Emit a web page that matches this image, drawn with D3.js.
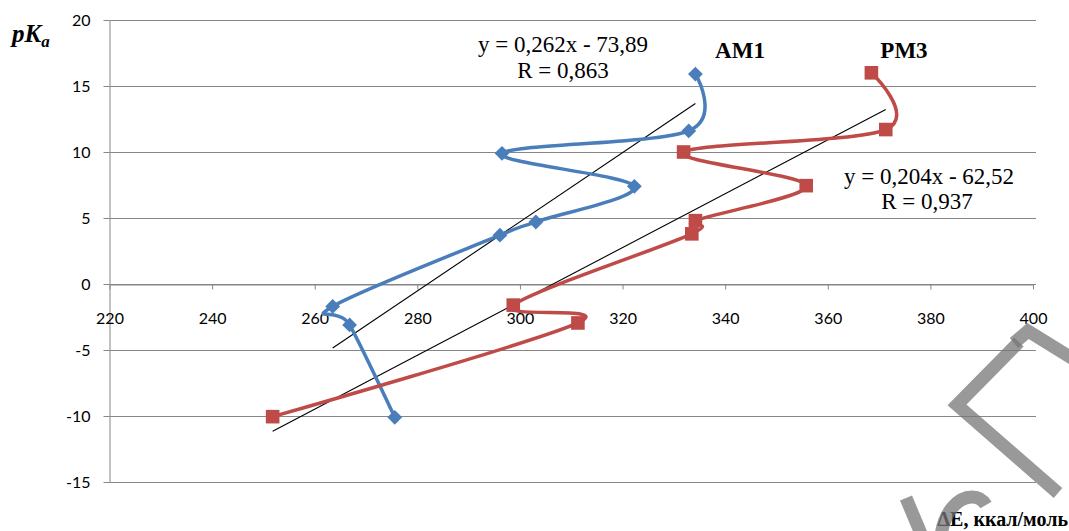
<!DOCTYPE html>
<html>
<head>
<meta charset="utf-8">
<script src="https://cdn.jsdelivr.net/npm/d3@7"></script>
<style>
  body { margin: 0; background: #fff; }
  svg { display: block; }
</style>
</head>
<body>
<svg id="chart" width="1069" height="531"></svg>
<script>
// pKa vs deltaE, two methods with linear trendlines

var dEAM1 = [334.2, 332.9, 296.5, 322.3, 303.1, 296.1, 263.5, 266.8, 275.6];
var pkaAM1 = [15.9, 11.6, 9.9, 7.4, 4.7, 3.7, -1.7, -3.1, -10.1];
var dEPM3 = [368.5, 371.3, 331.9, 355.8, 334.2, 333.5, 298.7, 311.3, 251.8];
var pkaPM3 = [16.0, 11.7, 10.0, 7.45, 4.8, 3.8, -1.6, -2.95, -10.05];
var trendAM1 = [0.262, -73.89];
var trendPM3 = [0.204, -62.52];
var xTicks = [220, 240, 260, 280, 300, 320, 340, 360, 380, 400];
var yTicks = [-15, -10, -5, 0, 5, 10, 15, 20];

var svg = d3.select('#chart');
var plotLeft = 109.5, plotRight = 1033, plotTop = 20, plotBottom = 482;
var axisColor = '#868686';
var tickFont = 'Lato, "Open Sans", sans-serif';

var x = d3.scaleLinear().domain([220, 400]).range([plotLeft, plotRight]);
var y = d3.scaleLinear().domain([-15, 20]).range([plotBottom, plotTop]);

// plain hyphen minus like the original
function fmt(d) { return String(d); }

// horizontal gridlines
svg.append('g').selectAll('line')
    .data(yTicks)
    .enter()
  .append('line')
    .attr('x1', plotLeft)
    .attr('x2', plotRight + 3)
    .attr('y1', function (d) { return Math.round(y(d)) + 0.5; })
    .attr('y2', function (d) { return Math.round(y(d)) + 0.5; })
    .style('stroke', axisColor)
    .style('stroke-width', 1);

// y axis
var yAxis = svg.append('g')
    .attr('transform', 'translate(' + plotLeft + ',0)')
    .call(d3.axisLeft(y).tickValues(yTicks).tickFormat(fmt).tickSize(6).tickPadding(13).tickSizeOuter(0));
yAxis.select('.domain').style('stroke', axisColor);
yAxis.selectAll('.tick line').style('stroke', axisColor);
yAxis.selectAll('.tick text')
    .attr('font-family', tickFont)
    .attr('font-size', 16)
    .attr('fill', '#000');

// x axis crossing at 0, labels hang below
var xAxis = svg.append('g')
    .attr('transform', 'translate(0,' + (Math.round(y(0)) + 0.5) + ')')
    .call(d3.axisBottom(x).tickValues(xTicks).tickFormat(fmt).tickSize(5).tickPadding(23).tickSizeOuter(0));
xAxis.select('.domain').style('stroke', axisColor);
xAxis.selectAll('.tick line').style('stroke', axisColor);
xAxis.selectAll('.tick text')
    .attr('font-family', tickFont)
    .attr('font-size', 16)
    .attr('fill', '#000');

// trendlines across each series' x range
function drawTrend(xs, coef) {
    var ext = d3.extent(xs);
    svg.append('line')
        .attr('x1', x(ext[0]))
        .attr('y1', y(coef[0] * ext[0] + coef[1]))
        .attr('x2', x(ext[1]))
        .attr('y2', y(coef[0] * ext[1] + coef[1]))
        .style('stroke', '#000')
        .style('stroke-width', 1.1);
}
drawTrend(dEAM1, trendAM1);
drawTrend(dEPM3, trendPM3);

// smoothed series
var line = d3.line()
    .x(function (d) { return x(d[0]); })
    .y(function (d) { return y(d[1]); })
    .curve(d3.curveCardinal.tension(0));

function drawSeries(xs, ys, color, symbol, size, rot) {
    var pts = d3.zip(xs, ys);
    svg.append('path')
        .datum(pts)
        .attr('d', line)
        .style('fill', 'none')
        .style('stroke', color)
        .style('stroke-width', 3.5);
    svg.append('g').selectAll('path')
        .data(pts)
        .enter()
      .append('path')
        .attr('d', d3.symbol().type(symbol).size(size))
        .attr('transform', function (d) {
            return 'translate(' + x(d[0]) + ',' + y(d[1]) + ') rotate(' + rot + ')';
        })
        .style('fill', color);
}
drawSeries(dEAM1, pkaAM1, '#4A7EBB', d3.symbolSquare, 110, 45);
drawSeries(dEPM3, pkaPM3, '#BE4B48', d3.symbolSquare, 185, 0);

// text labels
var serif = '"Liberation Serif", "Times New Roman", serif';
function label(tx, ty, str, size, weight, anchor) {
    return svg.append('text')
        .attr('x', tx)
        .attr('y', ty)
        .attr('text-anchor', anchor || 'middle')
        .attr('font-family', serif)
        .attr('font-size', size)
        .attr('font-weight', weight || 'normal')
        .attr('fill', '#000')
        .text(str);
}
label(563, 52, 'y = 0,262x - 73,89', 23);
label(563, 78, 'R = 0,863', 23);
label(929, 184, 'y = 0,204x - 62,52', 23);
label(927, 209, 'R = 0,937', 23);
label(740, 58, 'AM1', 23, 'bold');
label(904, 58, 'PM3', 23, 'bold');
label(1068, 526, 'ΔE, ккал/моль', 20, 'bold', 'end');

var pk = svg.append('text')
    .attr('x', 12)
    .attr('y', 42)
    .attr('font-family', serif)
    .attr('font-size', 25)
    .attr('font-weight', 'bold')
    .attr('font-style', 'italic')
    .attr('fill', '#000');
pk.append('tspan').text('pK');
pk.append('tspan').attr('dy', 5).attr('font-size', 17).text('a');

// scanned watermark fragments
var wm = svg.append('g')
    .style('fill', 'none')
    .style('stroke', '#777')
    .style('stroke-opacity', 0.75)
    .style('stroke-width', 13);
wm.append('path').attr('d', 'M1019,342 L957,405 L1058,493');
wm.append('path').attr('d', 'M1014,343 L1028,331 L1075,360');
wm.append('path').attr('d', 'M906,498 L922,536');
wm.append('path').attr('d', 'M941,536 C944,512 958,497 972,497 C978,497 983,500 986,505');
</script>
</body>
</html>
